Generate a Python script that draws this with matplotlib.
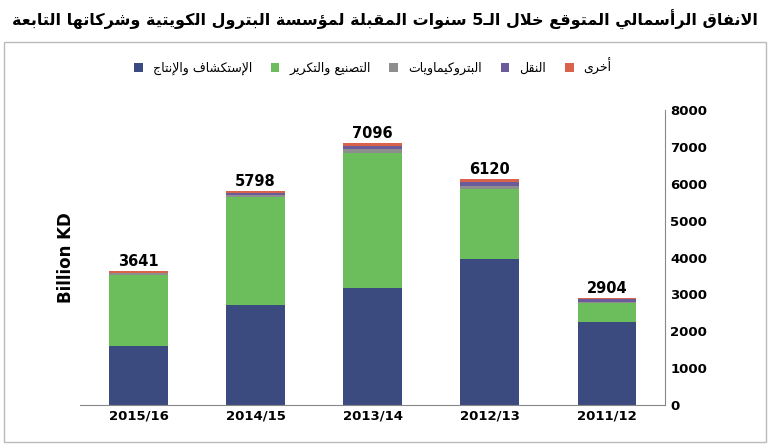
import matplotlib.pyplot as plt
import numpy as np

years = ["2015/16", "2014/15", "2013/14", "2012/13", "2011/12"]
explor = [1600, 2720, 3170, 3950, 2250]
refine = [1930, 2930, 3680, 1900, 510]
petchem = [40, 60, 100, 80, 30]
transport = [21, 40, 80, 130, 80]
other = [50, 48, 66, 60, 34]
totals = [3641, 5798, 7096, 6120, 2904]

title = "الانفاق الرأسمالي المتوقع خلال الـ5 سنوات المقبلة لمؤسسة البترول الكويتية وشركاتها التابعة"
names = ["الإستكشاف والإنتاج", "التصنيع والتكرير", "البتروكيماويات", "النقل", "أخرى"]
colors = ["#3b4a7f", "#6cbd5b", "#8e8e8e", "#6b5b9b", "#d9634a"]

# minimal arabic shaping (matplotlib does no shaping / bidi)
FOUR = {"ئ": 0xFE89, "ب": 0xFE8F, "ت": 0xFE95, "ث": 0xFE99, "ج": 0xFE9D, "ح": 0xFEA1,
        "خ": 0xFEA5, "س": 0xFEB1, "ش": 0xFEB5, "ص": 0xFEB9, "ض": 0xFEBD, "ط": 0xFEC1,
        "ظ": 0xFEC5, "ع": 0xFEC9, "غ": 0xFECD, "ف": 0xFED1, "ق": 0xFED5, "ك": 0xFED9,
        "ل": 0xFEDD, "م": 0xFEE1, "ن": 0xFEE5, "ه": 0xFEE9, "ي": 0xFEF1}
TWO = {"آ": 0xFE81, "أ": 0xFE83, "ؤ": 0xFE85, "إ": 0xFE87, "ا": 0xFE8D, "ة": 0xFE93,
       "د": 0xFEA9, "ذ": 0xFEAB, "ر": 0xFEAD, "ز": 0xFEAF, "و": 0xFEED, "ى": 0xFEEF,
       "\uFEFB": 0xFEFB, "\uFEF7": 0xFEF7, "\uFEF9": 0xFEF9, "\uFEF5": 0xFEF5}
LAMALEF = {"لا": "\uFEFB", "لأ": "\uFEF7", "لإ": "\uFEF9", "لآ": "\uFEF5"}


def shape(s):
    for k, v in LAMALEF.items():
        s = s.replace(k, v)
    out = []
    for i, c in enumerate(s):
        prev = s[i - 1] if i > 0 else ""
        nxt = s[i + 1] if i + 1 < len(s) else ""
        jp = prev in FOUR or prev == "ـ"
        jn = nxt in FOUR or nxt in TWO or nxt == "ـ"
        if c in FOUR:
            b = FOUR[c]
            if jp and jn:
                out.append(chr(b + 3))
            elif jp:
                out.append(chr(b + 1))
            elif jn:
                out.append(chr(b + 2))
            else:
                out.append(chr(b))
        elif c in TWO:
            out.append(chr(TWO[c] + (1 if jp else 0)))
        else:
            out.append(c)
    return "".join(out)[::-1]


fig = plt.figure(figsize=(7.7, 4.46), dpi=100)
fig.text(0.5, 0.955, shape(title), ha="center", va="center", fontsize=11.5, fontweight="bold")
frame = plt.Rectangle((0.005, 0.01), 0.99, 0.895, transform=fig.transFigure,
                      fill=False, edgecolor="#bbbbbb", lw=1)
fig.add_artist(frame)

ax = fig.add_axes([0.104, 0.092, 0.76, 0.661])
x = np.arange(len(years))
bottom = np.zeros(len(years))
for vals, name, col in zip([explor, refine, petchem, transport, other], names, colors):
    ax.bar(x, vals, 0.5, bottom=bottom, color=col, label=shape(name))
    bottom += np.array(vals)
for xi, t in zip(x, totals):
    ax.text(xi, t + 60, str(t), ha="center", va="bottom", fontsize=10.5, fontweight="bold")

ax.set_ylim(0, 8000)
ax.set_yticks(range(0, 8001, 1000))
ax.yaxis.tick_right()
ax.set_xticks(x)
ax.set_xticklabels(years, fontweight="bold", fontsize=9.5)
for lbl in ax.get_yticklabels():
    lbl.set_fontweight("bold")
ax.set_xlim(-0.5, 4.5)
ax.tick_params(axis="y", length=0, labelsize=9.5)
ax.tick_params(axis="x", length=0)
ax.set_ylabel("Billion KD", fontsize=12, fontweight="bold")
ax.yaxis.set_label_position("left")
for side in ["top", "left"]:
    ax.spines[side].set_visible(False)
ax.spines["right"].set_color("#888888")
ax.spines["bottom"].set_color("#888888")

ax.legend(loc="lower center", bbox_to_anchor=(0.5, 1.08), ncol=5, frameon=False,
          fontsize=9, handlelength=0.7, handleheight=0.7, columnspacing=1.5)

fig.savefig("out.png")
